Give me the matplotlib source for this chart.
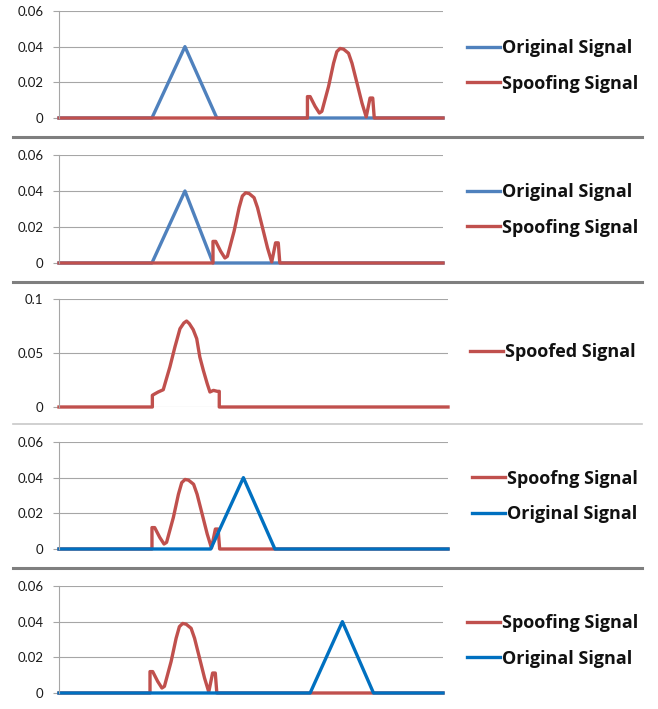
import matplotlib.pyplot as plt
from matplotlib.lines import Line2D

plt.rcParams["font.family"] = ["Lato", "DejaVu Sans"]

# colours
red = "#C0504D"
blue_light = "#4F81BD"
blue_dark = "#0070C0"
grid_grey = "#A6A6A6"

# x runs over the plot width as 0..100 (no x labels in the original)
# spoofing correlation shape: offsets from its start and the values
spoof_dx = [0, 0, 0.7, 2.0, 3.1, 3.75, 5.5, 6.8, 7.65, 8.5, 9.4, 10.7, 11.6,
            12.9, 14.2, 15.3, 16.3, 17.0, 17.4]
spoof_y = [0, 0.012, 0.012, 0.0065, 0.0028, 0.0037, 0.0177, 0.0307, 0.0372,
           0.039, 0.0386, 0.0363, 0.0307, 0.0196, 0.0084, 0.0006, 0.0112,
           0.0112, 0]

# original signal (triangle) per panel: start, peak, end
orig_p1 = [24.2, 32.8, 41.1]
orig_p2 = [24.2, 32.8, 40.1]
orig_p4 = [39.0, 47.4, 55.5]
orig_p5 = [65.4, 73.8, 81.9]
orig_peak = 0.04

# where the spoofing shape starts in each panel
spoof_start_p1 = 64.7
spoof_start_p2 = 40.1
spoof_start_p4 = 23.9
spoof_start_p5 = 23.7

# spoofed (combined) signal in panel 3
spoofed_x = [0, 24.0, 24.0, 24.4, 25.5, 26.8, 27.5, 28.5, 29.8, 31.1, 32.1, 32.8,
             33.5, 34.5, 35.4, 36.2, 37.1, 38.1, 38.8, 39.7, 40.7, 41.2, 41.2, 100]
spoofed_y = [0, 0, 0.0108, 0.0117, 0.0139, 0.016, 0.0247, 0.037, 0.0556, 0.0725,
             0.0778, 0.0796, 0.0772, 0.0716, 0.0633, 0.0463, 0.034, 0.0216,
             0.0139, 0.0154, 0.0145, 0.0145, 0, 0]

yticks_small = [0, 0.02, 0.04, 0.06]
yticks_big = [0, 0.05, 0.1]


def triangle(points):
    xs = [0, points[0], points[1], points[2], 100]
    ys = [0, 0, orig_peak, 0, 0]
    return xs, ys


def spoof(start):
    xs = [0] + [start + d for d in spoof_dx] + [100]
    ys = [0] + spoof_y + [0]
    return xs, ys


def px_axes(fig, left, right, top, bottom):
    W, H = 658, 709
    return fig.add_axes([left / W, 1 - bottom / H, (right - left) / W, (bottom - top) / H])


def style_axes(ax, ticks):
    ax.set_xlim(0, 100)
    ax.set_ylim(0, ticks[-1])
    ax.set_yticks(ticks)
    ax.set_yticklabels(["%g" % t for t in ticks])
    ax.set_xticks([])
    for s in ["top", "right", "bottom"]:
        ax.spines[s].set_visible(False)
    ax.spines["left"].set_color(grid_grey)
    ax.spines["left"].set_linewidth(0.8)
    ax.grid(axis="y", color=grid_grey, linewidth=0.8)
    ax.set_axisbelow(True)
    ax.tick_params(axis="y", length=4.3, color=grid_grey, width=0.8, pad=7,
                   labelsize=9.5, labelcolor="#1a1a1a")


def add_legend(ax, handles, labels, x_px, yc_px):
    leg = ax.legend(handles, labels, loc="center left",
                    bbox_to_anchor=(x_px / 658, 1 - yc_px / 709),
                    bbox_transform=ax.figure.transFigure, frameon=False,
                    handlelength=1.85, handletextpad=0.1, borderpad=0,
                    borderaxespad=0, labelspacing=0.97,
                    prop={"family": "Open Sans", "weight": "bold", "size": 13})
    for t in leg.get_texts():
        t.set_color("#111111")


fig = plt.figure(figsize=(6.58, 7.09), dpi=100)
lw = 2.4

# panel 1
ax1 = px_axes(fig, 59, 443, 11, 118)
style_axes(ax1, yticks_small)
bx, by = triangle(orig_p1)
sx, sy = spoof(spoof_start_p1)
hb, = ax1.plot(bx, by, color=blue_light, lw=lw, clip_on=False)
hr, = ax1.plot(sx, sy, color=red, lw=lw, clip_on=False)
add_legend(ax1, [hb, hr], ["Original Signal", "Spoofing Signal"], 467, 66)

# panel 2
ax2 = px_axes(fig, 59, 443, 155, 263)
style_axes(ax2, yticks_small)
bx, by = triangle(orig_p2)
sx, sy = spoof(spoof_start_p2)
hb, = ax2.plot(bx, by, color=blue_light, lw=lw, clip_on=False)
hr, = ax2.plot(sx, sy, color=red, lw=lw, clip_on=False)
add_legend(ax2, [hb, hr], ["Original Signal", "Spoofing Signal"], 467, 210)

# panel 3
ax3 = px_axes(fig, 59, 448, 299, 407)
style_axes(ax3, yticks_big)
hr, = ax3.plot(spoofed_x, spoofed_y, color=red, lw=lw, clip_on=False)
add_legend(ax3, [hr], ["Spoofed Signal"], 470, 352)

# panel 4
ax4 = px_axes(fig, 59, 448, 442, 549)
style_axes(ax4, yticks_small)
sx, sy = spoof(spoof_start_p4)
bx, by = triangle(orig_p4)
hr, = ax4.plot(sx, sy, color=red, lw=lw, clip_on=False)
hb, = ax4.plot(bx, by, color=blue_dark, lw=lw, clip_on=False)
add_legend(ax4, [hr, hb], ["Spoofng Signal", "Original Signal"], 472, 496.5)

# panel 5
ax5 = px_axes(fig, 59, 443, 586, 693)
style_axes(ax5, yticks_small)
sx, sy = spoof(spoof_start_p5)
bx, by = triangle(orig_p5)
hr, = ax5.plot(sx, sy, color=red, lw=lw, clip_on=False)
hb, = ax5.plot(bx, by, color=blue_dark, lw=lw, clip_on=False)
add_legend(ax5, [hr, hb], ["Spoofing Signal", "Original Signal"], 467, 641)

# separators between the panels
for y_px, col, w in [(137, "#7F7F7F", 2.2), (282, "#7F7F7F", 2.2),
                     (424, "#C8C8C8", 1.2), (568, "#7F7F7F", 2.2)]:
    y = 1 - y_px / 709
    fig.add_artist(Line2D([13 / 658, 642 / 658], [y, y], color=col, lw=w,
                          transform=fig.transFigure))

fig.savefig("out.png", dpi=100)
